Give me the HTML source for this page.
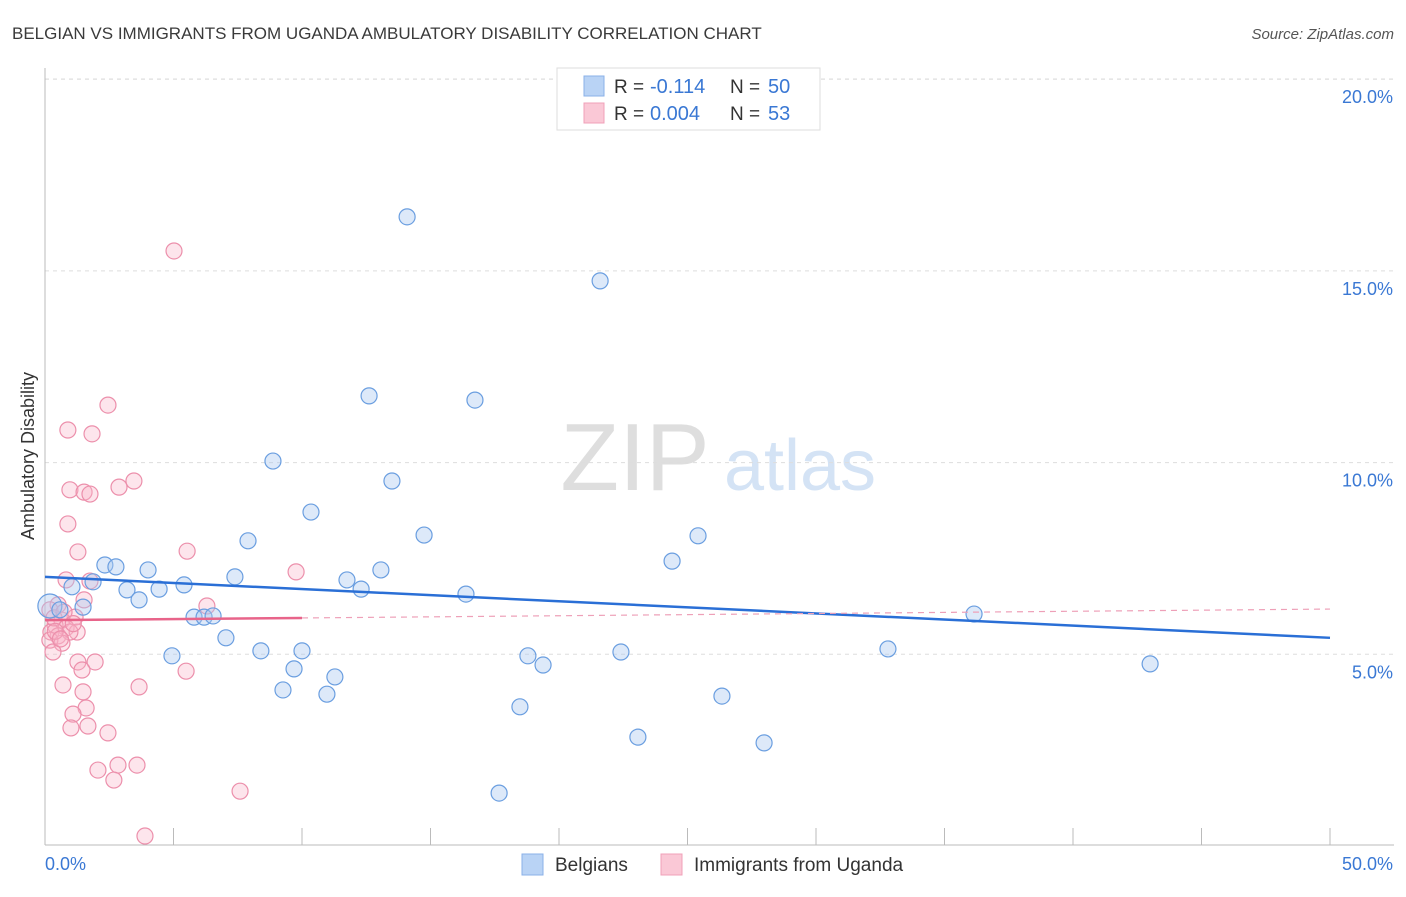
<!DOCTYPE html>
<html><head><meta charset="utf-8"><style>
body{margin:0;background:#fff;font-family:"Liberation Sans",sans-serif;}
svg text{font-family:"Liberation Sans",sans-serif;}
</style></head><body>
<svg id="chart" width="1406" height="892" xmlns="http://www.w3.org/2000/svg">
<text x="12" y="39" font-size="17" fill="#3a3a3a">BELGIAN VS IMMIGRANTS FROM UGANDA AMBULATORY DISABILITY CORRELATION CHART</text>
<text x="1394" y="39" font-size="15" fill="#555" text-anchor="end" font-style="italic">Source: ZipAtlas.com</text>
<g>
<text x="635" y="490" font-size="96" fill="#dedede" font-family="Liberation Serif" text-anchor="middle">ZIP</text>
<text x="800" y="490" font-size="72" fill="#d4e3f5" text-anchor="middle">atlas</text>
</g>
<g id="grid"></g>
<g id="axes"></g>
<g id="marks"></g>
<g id="trends"></g>
<text transform="translate(34,456) rotate(-90)" font-size="18" fill="#333" text-anchor="middle">Ambulatory Disability</text>
<g>
<rect x="557" y="68" width="263" height="62" fill="#fff" stroke="#ddd"/>
<rect x="584" y="76" width="20" height="20" fill="#b9d3f5" stroke="#8ab0e8"/>
<text x="614" y="93" font-size="19" fill="#333">R =</text>
<text x="650" y="93" font-size="20" fill="#3a78d4">-0.114</text>
<text x="730" y="93" font-size="19" fill="#333">N =</text>
<text x="768" y="93" font-size="20" fill="#3a78d4">50</text>
<rect x="584" y="103" width="20" height="20" fill="#fac8d6" stroke="#f0a0b8"/>
<text x="614" y="120" font-size="19" fill="#333">R =</text>
<text x="650" y="120" font-size="20" fill="#3a78d4">0.004</text>
<text x="730" y="120" font-size="19" fill="#333">N =</text>
<text x="768" y="120" font-size="20" fill="#3a78d4">53</text>
</g>
<g>
<rect x="522" y="854" width="21" height="21" fill="#b9d3f5" stroke="#8ab0e8"/>
<text x="555" y="871" font-size="19" fill="#333">Belgians</text>
<rect x="661" y="854" width="21" height="21" fill="#fac8d6" stroke="#f0a0b8"/>
<text x="694" y="871" font-size="19" fill="#333">Immigrants from Uganda</text>
</g>
</svg>
<script>
const yTicks=[5,10,15,20];
const yTickLabels=["5.0%","10.0%","15.0%","20.0%"];
const xTicks=[0,5,10,15,20,25,30,35,40,45,50];
const belgianX=[14.09,21.60,12.61,16.73,8.87,13.50,10.35,14.75,25.41,7.90,24.40,2.33,2.76,4.01,13.07,7.39,11.75,1.87,5.41,1.05,3.19,4.44,12.30,3.66,16.38,0.19,0.58,1.48,5.80,6.19,6.54,36.15,7.04,8.40,10.00,4.94,18.79,22.41,32.80,19.38,43.00,9.69,11.28,9.26,10.97,26.34,18.48,23.07,27.98,17.67];
const belgianY=[16.41,14.74,11.74,11.63,10.04,9.52,8.71,8.11,8.09,7.96,7.43,7.33,7.28,7.20,7.20,7.02,6.94,6.89,6.81,6.76,6.68,6.70,6.70,6.42,6.57,6.26,6.16,6.23,5.97,5.97,6.00,6.05,5.43,5.09,5.09,4.96,4.96,5.06,5.14,4.72,4.75,4.62,4.41,4.07,3.96,3.91,3.63,2.84,2.69,1.38];
const ugandaX=[5.02,2.45,0.89,1.83,3.46,0.97,1.52,1.75,2.88,0.89,1.28,5.53,9.77,0.82,1.75,1.52,6.30,0.51,0.19,1.17,0.66,0.39,0.82,1.25,0.23,0.51,0.97,0.19,0.66,0.31,1.95,1.28,1.44,5.49,0.70,3.66,1.48,1.60,1.09,1.67,1.01,2.45,2.06,2.84,3.58,2.68,7.59,3.89,0.35,0.74,1.1,0.4,0.6];
const ugandaY=[15.52,11.50,10.85,10.75,9.52,9.29,9.23,9.18,9.36,8.40,7.67,7.69,7.15,6.94,6.91,6.42,6.26,6.29,6.16,5.97,5.89,5.76,5.69,5.58,5.58,5.48,5.58,5.37,5.29,5.06,4.80,4.80,4.59,4.56,4.20,4.15,4.02,3.60,3.44,3.13,3.08,2.95,1.98,2.11,2.11,1.72,1.43,0.26,5.95,6.10,5.8,5.6,5.4];
const belgianTrend=[7.02,5.43];
const ugandaTrend=[5.89,6.18];
const ugandaSolidEnd=10;
const NS="http://www.w3.org/2000/svg";
const X=v=>45+v/50*1285, Y=v=>846-v*38.34;
function mk(t,a,p){const e=document.createElementNS(NS,t);for(const k in a)e.setAttribute(k,a[k]);p.appendChild(e);return e;}
const grid=document.getElementById('grid'),axes=document.getElementById('axes'),marks=document.getElementById('marks'),trends=document.getElementById('trends');
yTicks.forEach((t,i)=>{
 const l=mk('line',{x1:45,x2:1394,y1:Y(t),y2:Y(t),stroke:'#ddd','stroke-dasharray':'4,4'},grid);
 
 
 const tx=mk('text',{x:1393,y:Y(t)+24,'font-size':18,fill:'#3a78d4','text-anchor':'end'},axes);
 tx.textContent=yTickLabels[i];
 
 
});
const topGrid=mk('line',{x1:45,x2:1394,y1:79,y2:79,stroke:'#ddd','stroke-dasharray':'4,4'},grid);


const ya=mk('line',{x1:45,x2:45,y1:68,y2:845,stroke:'#bbb'},axes);


const xa=mk('line',{x1:45,x2:1394,y1:845,y2:845,stroke:'#bbb'},axes);


xTicks.forEach(t=>{
 const l=mk('line',{x1:X(t),x2:X(t),y1:828,y2:845,stroke:'#bbb'},axes);
 
 
});
[[0,"0.0%",'start',45],[50,"50.0%",'end',1393]].forEach(d=>{
 const tx=mk('text',{x:d[3],y:870,'font-size':18,fill:'#3a78d4','text-anchor':d[2]},axes);
 tx.textContent=d[1];
 
 
});
ugandaX.forEach((v,i)=>{
 const c=mk('circle',{cx:X(v),cy:Y(ugandaY[i]),r:8,fill:'rgba(248,180,200,0.35)',stroke:'#ec8fab','stroke-width':1.2},marks);
 
 
});
belgianX.forEach((v,i)=>{
 const c=mk('circle',{cx:X(v),cy:Y(belgianY[i]),r:i==25?12:8,fill:'rgba(170,200,240,0.4)',stroke:'#6a9ee0','stroke-width':1.2},marks);
 
 
});
const bt=mk('line',{x1:X(0),x2:X(50),y1:Y(belgianTrend[0]),y2:Y(belgianTrend[1]),stroke:'#2a6fd6','stroke-width':2.5},trends);


const uy=v=>ugandaTrend[0]+(ugandaTrend[1]-ugandaTrend[0])*v/50;
const ud=mk('line',{x1:X(ugandaSolidEnd),x2:X(50),y1:Y(uy(ugandaSolidEnd)),y2:Y(uy(50)),stroke:'#eea0b8','stroke-width':1.2,'stroke-dasharray':'6,5'},trends);


const us=mk('line',{x1:X(0),x2:X(ugandaSolidEnd),y1:Y(uy(0)),y2:Y(uy(ugandaSolidEnd)),stroke:'#e8648a','stroke-width':2.5},trends);


</script>
</body></html>
